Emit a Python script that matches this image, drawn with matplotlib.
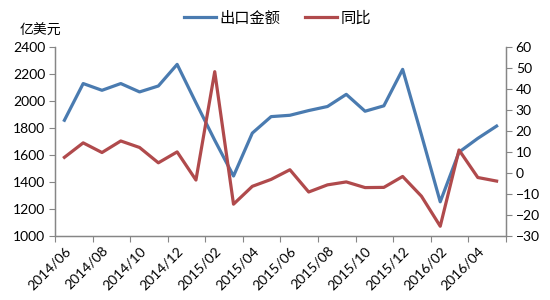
import matplotlib
matplotlib.use("Agg")
import matplotlib.pyplot as plt
import numpy as np

plt.rcParams['font.family'] = ['Lato', 'Noto Sans CJK SC', 'DejaVu Sans']

months = ["2014/06", "2014/07", "2014/08", "2014/09", "2014/10", "2014/11", "2014/12",
          "2015/01", "2015/02", "2015/03", "2015/04", "2015/05", "2015/06", "2015/07",
          "2015/08", "2015/09", "2015/10", "2015/11", "2015/12", "2016/01", "2016/02",
          "2016/03", "2016/04", "2016/05"]
export_value = [1858, 2130, 2080, 2130, 2068, 2112, 2272, 1988, 1710, 1445, 1763, 1885,
                1895, 1930, 1960, 2050, 1925, 1965, 2235, 1750, 1254, 1622, 1724, 1815]
yoy = [7.5, 14.4, 9.8, 15.3, 12.2, 4.9, 10.1, -3.3, 48.3, -14.8, -6.3, -3.0,
       1.6, -9.0, -5.6, -4.2, -6.9, -6.8, -1.6, -11.0, -25.3, 11.0, -2.1, -3.8]

blue = '#4A7BB0'
red = '#B04A4C'
gray = '#868686'

fig = plt.figure(figsize=(5.5, 3.0), dpi=100)
ax = fig.add_axes([0.1, 0.213, 0.82, 0.63])
ax2 = ax.twinx()

x = np.arange(len(months))
l1, = ax.plot(x, export_value, color=blue, lw=2.3, label='出口金额')
l2, = ax2.plot(x, yoy, color=red, lw=2.3, label='同比')

ax.set_xlim(-0.5, len(months) - 0.5)
ax.set_ylim(1000, 2400)
ax.set_yticks(np.arange(1000, 2401, 200))
ax2.set_ylim(-30, 60)
ax2.set_yticks(np.arange(-30, 61, 10))

# category boundary ticks every 2 categories
ax.set_xticks(np.arange(-0.5, len(months), 2))
ax.set_xticklabels([])
ax.set_xticks(x[::2], minor=True)
ax.set_xticklabels(months[::2], minor=True, rotation=45, ha='right',
                   rotation_mode='anchor', fontsize=10)
ax.tick_params(axis='x', which='minor', length=0, pad=6)
ax.tick_params(axis='x', which='major', length=4, color=gray, direction='out')

ax.tick_params(axis='y', labelsize=10, length=4, color=gray, pad=3)
ax2.tick_params(axis='y', labelsize=10, length=4, color=gray, pad=3)

for a in (ax, ax2):
    a.spines['top'].set_visible(False)
    for s in ('left', 'right', 'bottom'):
        a.spines[s].set_color(gray)
        a.spines[s].set_linewidth(0.9)

fig.text(0.035, 0.875, '亿美元', fontsize=10, ha='left', va='bottom',
         family=['Noto Sans CJK SC', 'DejaVu Sans'])

fig.legend(handles=[l1, l2], loc='center', bbox_to_anchor=(0.505, 0.94), ncol=2,
           frameon=False, handlelength=2.1, columnspacing=1.6, handletextpad=0.25,
           prop={'family': ['Noto Sans CJK SC', 'DejaVu Sans'], 'size': 11})

fig.savefig('out.png', dpi=100)
